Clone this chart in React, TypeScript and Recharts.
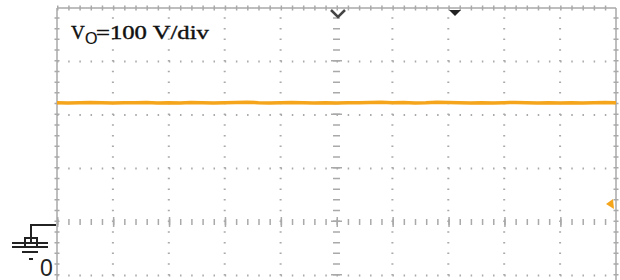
import { LineChart, Line, XAxis, YAxis, ReferenceLine } from "recharts";

// time in divisions (0..10), voltage in volts
const times = [
  0, 0.2, 0.4, 0.6, 0.8, 1, 1.2, 1.4, 1.6, 1.8, 2, 2.2, 2.4, 2.6, 2.8, 3, 3.2, 3.4, 3.6, 3.8, 4, 4.2, 4.4, 4.6, 4.8, 5,
  5.2, 5.4, 5.6, 5.8, 6, 6.2, 6.4, 6.6, 6.8, 7, 7.2, 7.4, 7.6, 7.8, 8, 8.2, 8.4, 8.6, 8.8, 9, 9.2, 9.4, 9.6, 9.8, 10,
];
const volts = [
  223, 222.5, 223, 223.5, 223, 222.5, 223, 223, 223.5, 222.5, 223, 222.5, 223.5, 223, 222.5, 223, 223.5, 224, 223,
  222.5, 223, 223.5, 223, 222.5, 223, 222.5, 223, 223, 223.5, 224, 223, 223.5, 222.5, 223, 224, 223.5, 223, 222.5,
  223, 222.5, 223, 223.5, 223, 222.5, 223, 222.5, 223, 222.5, 223, 223.5, 223,
];

const hGrid = [300, 200, 100, -100, -200, -300];
const vGrid = [1, 2, 3, 4, 6, 7, 8, 9];

const data = times.map((t, i) => ({ t, v: volts[i] }));

const GRID = "#a9a9a9";
const TRACE = "#f4a51c";

export default function App() {
  return (
    <div
      style={{
        position: "absolute",
        left: 0,
        top: 0,
        width: 620,
        height: 280,
        overflow: "hidden",
        background: "#fff",
      }}
    >
      <LineChart width={620} height={440} data={data} margin={{ top: 8, right: 4, bottom: 4, left: 57 }}>
        <XAxis type="number" dataKey="t" domain={[0, 10]} hide />
        <YAxis type="number" domain={[-400, 400]} hide />
        {hGrid.map((y) => (
          <ReferenceLine key={"h" + y} y={y} stroke={GRID} strokeWidth={2} strokeDasharray="1.5 9.68" />
        ))}
        {vGrid.map((x) => (
          <ReferenceLine key={"v" + x} x={x} stroke={GRID} strokeWidth={2} strokeDasharray="1.5 9.2" />
        ))}
        {/* center axes with tick marks */}
        <ReferenceLine y={0} stroke={GRID} strokeWidth={6} strokeDasharray="1.5 9.68" />
        <ReferenceLine y={0} stroke={GRID} strokeWidth={10} strokeDasharray="1.5 54.4" />
        <ReferenceLine x={5} stroke={GRID} strokeWidth={7} strokeDasharray="1.5 9.2" />
        <ReferenceLine x={5} stroke={GRID} strokeWidth={11} strokeDasharray="1.5 52" />
        {/* screen border */}
        <ReferenceLine x={0} stroke={GRID} strokeWidth={1.5} />
        <ReferenceLine x={0} stroke={GRID} strokeWidth={5} strokeDasharray="1.5 9.2" />
        <ReferenceLine x={10} stroke={GRID} strokeWidth={1.5} />
        <ReferenceLine x={10} stroke={GRID} strokeWidth={5} strokeDasharray="1.5 9.2" />
        <ReferenceLine y={400} stroke={GRID} strokeWidth={1.5} />
        <ReferenceLine y={400} stroke={GRID} strokeWidth={5} strokeDasharray="1.5 9.68" />
        <Line
          dataKey="v"
          type="linear"
          stroke={TRACE}
          strokeWidth={3.5}
          dot={false}
          isAnimationActive={false}
        />
      </LineChart>
      <svg width={620} height={280} style={{ position: "absolute", left: 0, top: 0, pointerEvents: "none" }}>
        <g fontFamily="'Liberation Serif', 'Times New Roman', serif" fill="#111" stroke="#111" strokeWidth={0.4}>
          <text x={71} y={39} fontSize={19}>
            V
          </text>
          <text x={85} y={44} fontSize={16} fontFamily="'Liberation Sans', Arial, sans-serif" strokeWidth={0.2}>
            O
          </text>
          <text transform="translate(96,39) scale(1.3,1)" fontSize={19}>
            =100 V/div
          </text>
        </g>
        {/* trigger position / marker */}
        <polyline points="331,10 338,17 345,10" fill="none" stroke="#444" strokeWidth={2.5} />
        <polygon points="449,10 461,10 455,16" fill="#222" />
        {/* trigger level */}
        <polygon points="606,204 613,199 614,209" fill={TRACE} />
        {/* ground marker */}
        <g stroke="#222" strokeWidth={2} fill="none">
          <polyline points="56,225 31,225 31,243" />
          <rect x={25} y={238} width={12} height={9} />
          <line x1={12} y1={243} x2={48} y2={243} />
          <line x1={12} y1={247} x2={48} y2={247} />
          <line x1={22} y1={252} x2={38} y2={252} />
          <line x1={29} y1={259} x2={33} y2={259} />
        </g>
        <text x={40} y={276} fontSize={23} fontFamily="'Liberation Sans', Arial, sans-serif" fill="#222">
          0
        </text>
      </svg>
    </div>
  );
}
